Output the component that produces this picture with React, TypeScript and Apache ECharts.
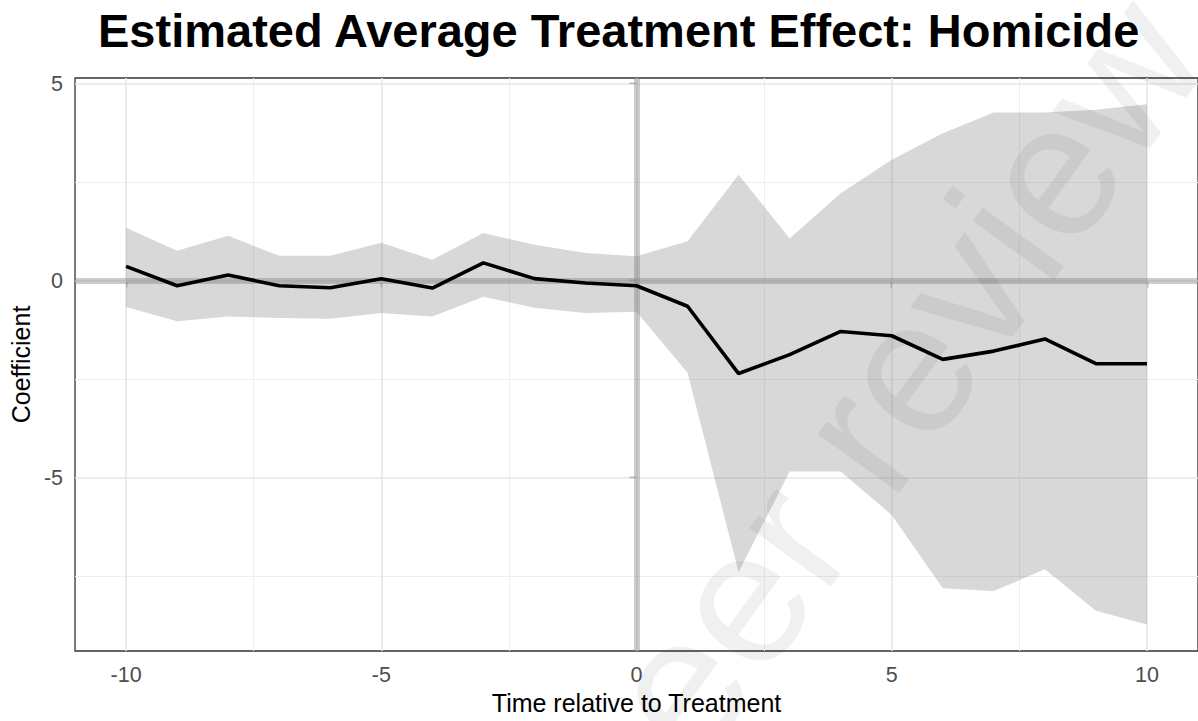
import React, { useEffect, useRef } from "react";
import * as echarts from "echarts";

// Event time relative to treatment
const timeVals = [-10, -9, -8, -7, -6, -5, -4, -3, -2, -1, 0, 1, 2, 3, 4, 5, 6, 7, 8, 9, 10];
// Point estimates
const estimate = [0.36, -0.13, 0.14, -0.13, -0.18, 0.05, -0.19, 0.45, 0.05, -0.06, -0.13, -0.65, -2.36, -1.88, -1.29, -1.40, -2.0, -1.79, -1.48, -2.11, -2.11];
// Confidence band
const upperCI = [1.34, 0.76, 1.14, 0.63, 0.63, 0.96, 0.53, 1.21, 0.91, 0.70, 0.62, 1.0, 2.69, 1.07, 2.22, 3.07, 3.74, 4.27, 4.27, 4.34, 4.48];
const lowerCI = [-0.67, -1.03, -0.91, -0.95, -0.97, -0.82, -0.91, -0.41, -0.69, -0.82, -0.79, -2.34, -7.40, -4.85, -4.85, -5.95, -7.81, -7.88, -7.33, -8.38, -8.73];
// Ticks and gridlines
const xTicks = [-10, -5, 0, 5, 10];
const xMinor = [-7.5, -2.5, 2.5, 7.5];
const yTicks = [-5, 0, 5];
const yMinor = [-7.5, -2.5, 2.5];

const FONT = "'Liberation Sans', Arial, Helvetica, sans-serif";

export default function App() {
  const ref = useRef<HTMLDivElement>(null);
  useEffect(() => {
    if (!ref.current) return;
    const chart = echarts.init(ref.current, null, { renderer: "svg" });
    const majorStyle = { color: "#e6e6e6", width: 1.6, type: "solid" as const };
    const minorStyle = { color: "#eeeeee", width: 1.1, type: "solid" as const };
    const gridData: any[] = [
      ...xMinor.map((v) => ({ xAxis: v, lineStyle: minorStyle })),
      ...yMinor.map((v) => ({ yAxis: v, lineStyle: minorStyle })),
      ...xTicks.map((v) => ({ xAxis: v, lineStyle: majorStyle })),
      ...yTicks.map((v) => ({ yAxis: v, lineStyle: majorStyle })),
    ];
    chart.setOption({
      animation: false,
      backgroundColor: "#ffffff",
      textStyle: { fontFamily: FONT },
      title: {
        text: "Estimated Average Treatment Effect: Homicide",
        left: 93,
        top: 2,
        textStyle: { fontFamily: FONT, fontWeight: "bold", fontSize: 47, color: "#000000" },
      },
      grid: {
        left: 74,
        right: -4,
        top: 78,
        bottom: 70,
        show: true,
        borderColor: "#333333",
        borderWidth: 1.3,
        backgroundColor: "transparent",
      },
      xAxis: {
        type: "value",
        min: -11,
        max: 11,
        name: "Time relative to Treatment",
        nameLocation: "middle",
        nameGap: 37,
        nameTextStyle: { fontFamily: FONT, fontSize: 25, color: "#000000" },
        axisLine: { show: false },
        axisTick: { show: true, length: 7, customValues: xTicks, lineStyle: { color: "#333333", width: 1.3 } },
        axisLabel: { customValues: xTicks, margin: 13, fontFamily: FONT, fontSize: 21.5, color: "#4d4d4d" },
        splitLine: { show: false },
      },
      yAxis: {
        type: "value",
        min: -9.405,
        max: 5.145,
        name: "Coefficient",
        nameLocation: "middle",
        nameRotate: 90,
        nameGap: 37,
        nameTextStyle: { fontFamily: FONT, fontSize: 25, color: "#000000" },
        axisLine: { show: false },
        axisTick: { show: true, length: 7, customValues: yTicks, lineStyle: { color: "#333333", width: 1.3 } },
        axisLabel: { customValues: yTicks, margin: 12, fontFamily: FONT, fontSize: 21.5, color: "#4d4d4d" },
        splitLine: { show: false },
      },
      series: [
        {
          name: "gridlines",
          type: "line",
          data: [],
          silent: true,
          z: 1,
          markLine: {
            silent: true,
            z: 1,
            symbol: ["none", "none"],
            label: { show: false },
            emphasis: { disabled: true },
            data: gridData,
          },
        },
        {
          name: "band",
          type: "custom",
          z: 2,
          silent: true,
          data: timeVals.map((t, i) => [t, lowerCI[i], upperCI[i]]),
          encode: { x: 0, y: [1, 2] },
          renderItem: (params: any, api: any) => {
            if (params.dataIndex !== 0) return null;
            const pts: number[][] = [];
            for (let i = 0; i < timeVals.length; i++) pts.push(api.coord([timeVals[i], upperCI[i]]));
            for (let i = timeVals.length - 1; i >= 0; i--) pts.push(api.coord([timeVals[i], lowerCI[i]]));
            return {
              type: "polygon",
              shape: { points: pts },
              style: { fill: "rgba(127,127,127,0.3)", stroke: "none" },
              silent: true,
            };
          },
        },
        {
          name: "reference",
          type: "line",
          data: [],
          silent: true,
          z: 3,
          markLine: {
            silent: true,
            z: 3,
            symbol: ["none", "none"],
            label: { show: false },
            emphasis: { disabled: true },
            lineStyle: { color: "rgba(127,127,127,0.4)", width: 6, type: "solid" },
            data: [{ xAxis: 0 }, { yAxis: 0 }],
          },
        },
        {
          name: "Estimate",
          type: "line",
          z: 4,
          data: timeVals.map((t, i) => [t, estimate[i]]),
          showSymbol: false,
          symbol: "none",
          lineStyle: { color: "#000000", width: 3.6 },
          silent: true,
        },
      ],
      graphic: [
        {
          type: "text",
          x: 872,
          y: 418,
          rotation: (54 * Math.PI) / 180,
          z: 100,
          silent: true,
          style: {
            text: "peer review",
            fontFamily: FONT,
            fontSize: 190,
            fill: "rgba(0,0,0,0.06)",
            align: "center",
            verticalAlign: "middle",
          },
        },
      ],
    });
    return () => chart.dispose();
  }, []);
  return <div ref={ref} style={{ position: "absolute", left: 0, top: 0, width: 1198, height: 721 }} />;
}
